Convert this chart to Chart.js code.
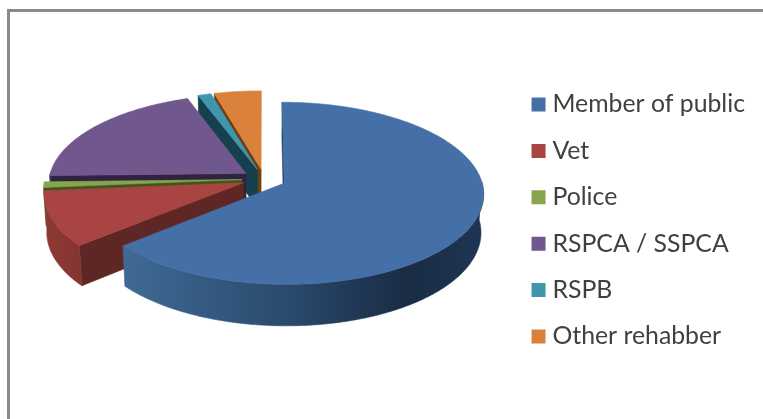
<!DOCTYPE html>
<html><head><meta charset="utf-8">
<style>html,body{margin:0;padding:0;background:#fff}#w{position:absolute;left:0;top:0;width:763px;height:419px}canvas{filter:blur(0.4px)}</style>
<script src="https://cdn.jsdelivr.net/npm/chart.js@4"></script>
</head><body><div id="w"><canvas id="c" width="763" height="419"></canvas></div>
<script>
const categories = ['Member of public','Vet','Police','RSPCA / SSPCA','RSPB','Other rehabber'];
const sharePercent = [63.8, 9.8, 1.0, 19.9, 1.2, 4.3];
const topColors = ['#4470A7','#A84442','#87A54C','#70578E','#3F97AE','#DA823B'];
const cutColors = ['#22395A','#5E2624','#3F5520','#2E2340','#17404F','#6D3F14'];
const rimColors = [['#3F6A94','#2A4A6E','#1A2C44','#1E3552'],['#8E3A37','#843431'],null,['#40305A','#40305A'],['#1E5566','#1E5566'],['#80491A','#80491A']];

// Perspective view of the tilted pie
const view = {cx:264, cy:179, rx:197, ry:89, k:0.11, depth:38.5, shrink:0.012, explode:0.112, rimL:[124,43,43,50,197,213], rimR:[484,80,50,243,210,260]};
function project(u,v,z){
  const w = 1 - view.k*v + view.shrink*z;
  return [view.cx + view.rx*u/w, view.cy + (view.ry*v + view.depth*z)/w];
}
function poly(ctx, pts, fill){
  ctx.beginPath();
  pts.forEach((p,i)=> i?ctx.lineTo(p[0],p[1]):ctx.moveTo(p[0],p[1]));
  ctx.closePath();
  ctx.fillStyle = fill; ctx.strokeStyle = fill; ctx.lineWidth = 0.6; ctx.lineJoin='round';
  ctx.fill(); ctx.stroke();
}
const pie3d = {
  id:'pie3d',
  beforeDraw(chart){
    const c = chart.ctx;
    c.save();
    c.fillStyle = '#fff'; c.fillRect(0,0,chart.width,chart.height);
    c.fillStyle = '#8A8A8A';
    c.fillRect(7,9,chart.width-7,3);
    c.fillRect(7,9,3,chart.height-9);
    c.restore();
  },
  beforeDatasetsDraw(chart){
    const c = chart.ctx, arcs = chart.getDatasetMeta(0).data;
    const order = [5,4,3,2,1,0];
    c.save();
    order.forEach(i=>{
      const a = arcs[i], s = a.startAngle, e = a.endAngle, mid = (s+e)/2;
      const ou = view.explode*Math.cos(mid), ov = view.explode*Math.sin(mid);
      const n = Math.max(4, Math.ceil((e-s)*90));
      const angs = []; for(let j=0;j<=n;j++) angs.push(s+(e-s)*j/n);
      const rim = z => angs.map(t=>project(ou+Math.cos(t), ov+Math.sin(t), z));
      const top = rim(0), bot = rim(1), a0 = project(ou,ov,0), a1 = project(ou,ov,1);
      if (top[0][0] < a0[0]-0.5) poly(c,[a0,top[0],bot[0],a1],cutColors[i]);
      if (top[n][0] > a0[0]+0.5) poly(c,[a0,top[n],bot[n],a1],cutColors[i]);
      const keep = angs.map(t=>Math.sin(t) > -0.02);
      const ft = top.filter((p,j)=>keep[j]), fb = bot.filter((p,j)=>keep[j]);
      if (ft.length>1 && rimColors[i]){
        const g = c.createLinearGradient(view.rimL[i],0,view.rimR[i],0), st = rimColors[i];
        if (i===0){ g.addColorStop(0,st[0]); g.addColorStop(0.45,st[1]); g.addColorStop(0.78,st[2]); g.addColorStop(1,st[3]); }
        else { st.forEach((col,j)=>g.addColorStop(j/(st.length-1),col)); }
        poly(c, ft.concat(fb.slice().reverse()), g);
      }
      poly(c,[a0].concat(top),topColors[i]);
    });
    c.restore();
    return false;
  }
};
Chart.defaults.animation = false;
const chart = new Chart(document.getElementById('c'),{
  type:'pie',
  data:{labels:categories,datasets:[{data:sharePercent,backgroundColor:topColors,borderWidth:0}]},
  plugins:[pie3d],
  options:{
    responsive:false,
    layout:{padding:{right:8,top:22,bottom:0}},
    plugins:{
      tooltip:{enabled:false},
      legend:{
        position:'right',
        labels:{
          boxWidth:3,boxHeight:3,padding:21.6,color:'#404040',
          font:{family:'Lato',size:24.8},
          generateLabels(ch){
            return Chart.overrides.pie.plugins.legend.labels.generateLabels(ch).map(l=>Object.assign(l,{strokeStyle:l.fillStyle,lineWidth:11}));
          }
        }
      }
    }
  }
});
</script></body></html>
